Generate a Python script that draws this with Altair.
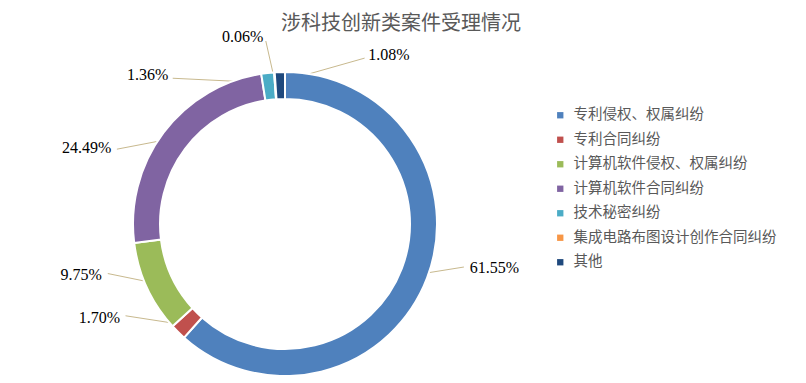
import math
import altair as alt
import pandas as pd

title_text = "涉科技创新类案件受理情况"
categories = ["专利侵权、权属纠纷", "专利合同纠纷", "计算机软件侵权、权属纠纷",
              "计算机软件合同纠纷", "技术秘密纠纷", "集成电路布图设计创作合同纠纷", "其他"]
values = [61.55, 1.70, 9.75, 24.49, 1.36, 0.06, 1.08]
colors = ["#4F81BD", "#C0504D", "#9BBB59", "#8064A2", "#4BACC6", "#F79646", "#1F497D"]

# layout
W, H = 790, 367
CX, CY = 277, 216
R_OUT, R_IN = 152, 125
R_LABEL = 188
MIN_GAP = 22.0

total = sum(values)
mids = []
cum = 0.0
for v in values:
    mids.append((cum + v / 2) / total * 360.0)
    cum += v

# spread label angles so that neighbouring labels do not collide
ang = mids[:]
order = sorted(range(len(ang)), key=lambda i: ang[i])
n = len(order)
for _ in range(400):
    for k in range(n):
        i, j = order[k], order[(k + 1) % n]
        a, b = ang[i], ang[j] + (360.0 if k == n - 1 else 0.0)
        gap = b - a
        if gap < MIN_GAP:
            d = (MIN_GAP - gap) / 2
            ang[i] -= d
            ang[j] += d


def toward_horizontal(deg):
    """Pull a label angle toward the horizontal on its side (Excel-like placement)."""
    deg = deg % 360
    h = 90.0 if deg < 180 else 270.0
    d = deg - h
    s = 1 if d >= 0 else -1
    d = abs(d)
    if d <= 50:
        d2 = 0.65 * d
    else:
        d2 = 32.5 + (d - 50) * (57.5 / 40)
    return h + s * d2


ang = [toward_horizontal(a) for a in ang]

rows = []
for i, (c, v) in enumerate(zip(categories, values)):
    m = math.radians(mids[i])
    a = math.radians(ang[i])
    rows.append({
        "category": c,
        "value": v,
        "idx": i,
        "label": f"{v:.2f}%",
        "lx": CX + R_LABEL * math.sin(a),
        "ly": CY - R_LABEL * math.cos(a),
        "x0": CX + (R_OUT - 10) * math.sin(m),
        "y0": CY - (R_OUT - 10) * math.cos(m),
        "x1": CX + (R_LABEL - 4) * math.sin(a),
        "y1": CY - (R_LABEL - 4) * math.cos(a),
        "side": "right" if math.sin(a) >= 0 else "left",
    })
df = pd.DataFrame(rows)

base = alt.Chart(df)

arcs = base.mark_arc(innerRadius=R_IN, outerRadius=R_OUT, stroke="white", strokeWidth=2).encode(
    theta=alt.Theta("value:Q", stack=True),
    order=alt.Order("idx:Q"),
    color=alt.Color(
        "category:N",
        sort=categories,
        scale=alt.Scale(domain=categories, range=colors),
        legend=alt.Legend(
            title=None, orient="none", legendX=545, legendY=100,
            symbolType="square", symbolSize=40, symbolStrokeWidth=0,
            labelFont="Noto Sans CJK SC", labelFontSize=14.5, labelColor="#595959",
            rowPadding=9.5, labelOffset=6, labelLimit=400,
        ),
    ),
    x=alt.value(CX),
    y=alt.value(CY),
)

leaders = base.mark_rule(color="#C8B98E", strokeWidth=1).encode(
    x=alt.X("x0:Q", scale=None),
    y=alt.Y("y0:Q", scale=None),
    x2="x1:Q",
    y2="y1:Q",
)

text_common = dict(font="Liberation Serif", fontSize=16, color="#000000", baseline="middle")
labels_right = base.transform_filter(alt.datum.side == "right").mark_text(align="left", dx=2, **text_common).encode(
    x=alt.X("lx:Q", scale=None), y=alt.Y("ly:Q", scale=None), text="label:N"
)
labels_left = base.transform_filter(alt.datum.side == "left").mark_text(align="right", dx=-2, **text_common).encode(
    x=alt.X("lx:Q", scale=None), y=alt.Y("ly:Q", scale=None), text="label:N"
)

title = alt.Chart(pd.DataFrame({"t": [title_text]})).mark_text(
    font="Noto Sans CJK SC", fontSize=20, color="#595959", align="center", baseline="middle"
).encode(text="t:N", x=alt.value(393), y=alt.value(16))

chart = alt.layer(leaders, arcs, labels_right, labels_left, title).properties(
    width=W, height=H, padding=0, autosize=alt.AutoSizeParams(type="none")
).configure_view(stroke=None)

chart.save("out.html", embed_options={"renderer": "svg", "actions": False})
